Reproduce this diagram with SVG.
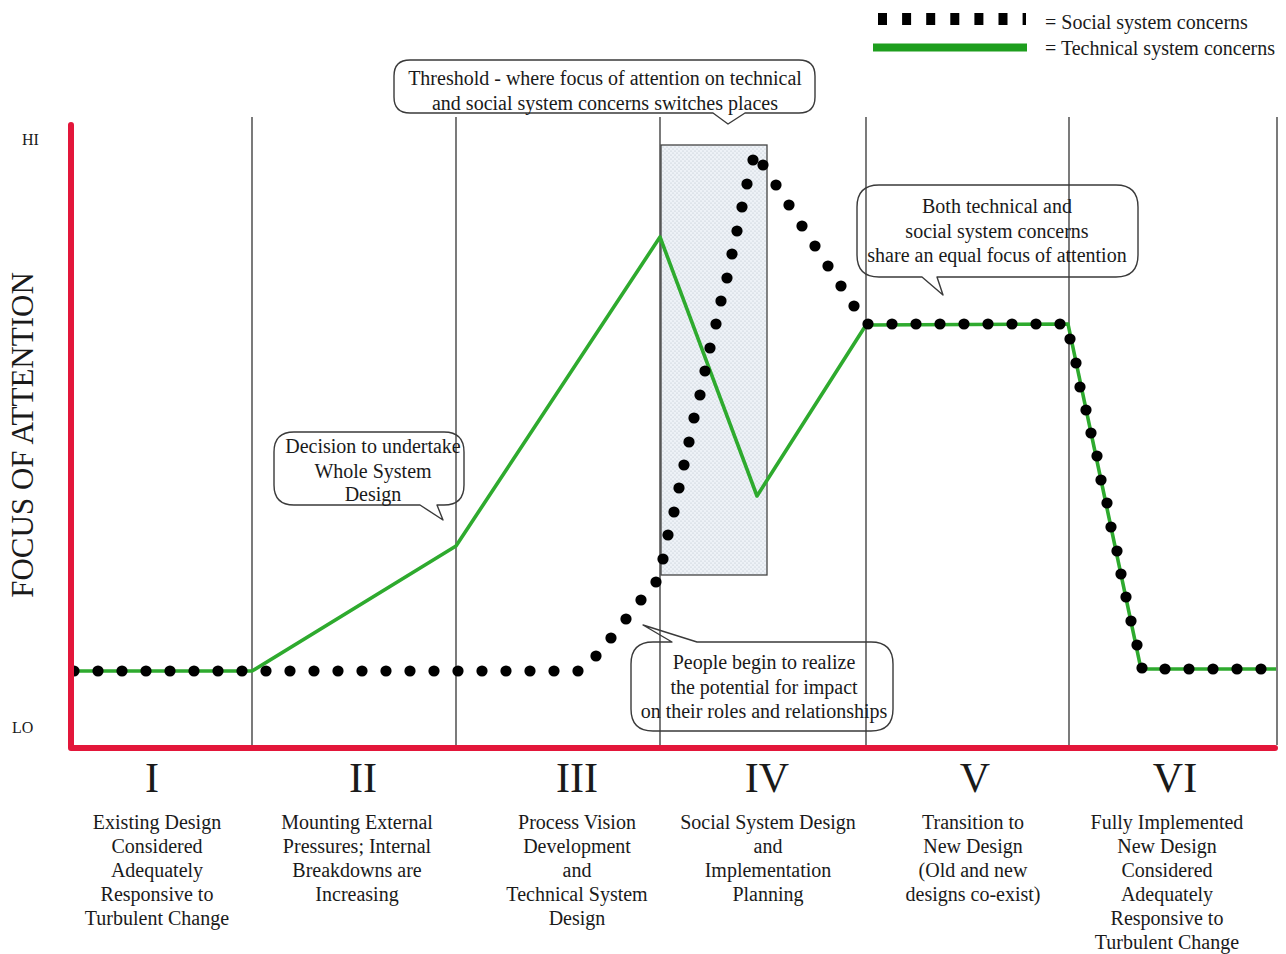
<svg xmlns="http://www.w3.org/2000/svg" width="1286" height="954" viewBox="0 0 1286 954">
<style>
.t{font-family:"Liberation Serif","Times New Roman",serif;fill:#1a1a1a}
.m{text-anchor:middle}
.s20{font-size:20px}
.call{fill:none;stroke:#3a3a3a;stroke-width:1.4;stroke-linejoin:round}
.vl{stroke:#222;stroke-width:1.2}
.dot{fill:#000}
.tech{fill:none;stroke:#2eaa2e;stroke-width:3.6;stroke-linejoin:round}
.axis{fill:none;stroke:#e3163a;stroke-width:6;stroke-linecap:round;stroke-linejoin:round}
.rom{font-size:42px}
</style>
<defs>
<pattern id="dots" width="4" height="4" patternUnits="userSpaceOnUse">
<rect width="4" height="4" fill="#eef2f7"/>
<circle cx="1" cy="1" r="0.5" fill="#a9b3bf"/>
<circle cx="3" cy="3" r="0.5" fill="#a9b3bf"/>
</pattern>
</defs>
<rect width="1286" height="954" fill="#fff"/>

<g id="legend">
<line x1="878" y1="19" x2="1026" y2="19" stroke="#000" stroke-width="12" stroke-dasharray="9 15.1"/>
<line x1="873" y1="47.5" x2="1027" y2="47.5" stroke="#1e9e1e" stroke-width="8"/>
<text class="t s20" x="1045" y="29">= Social system concerns</text>
<text class="t s20" x="1045" y="55">= Technical system concerns</text>
</g>

<g id="phase-dividers">
<line class="vl" x1="252" y1="117" x2="252" y2="745"/>
<line class="vl" x1="456" y1="117" x2="456" y2="745"/>
<line class="vl" x1="660" y1="117" x2="660" y2="745"/>
<line class="vl" x1="866" y1="117" x2="866" y2="745"/>
<line class="vl" x1="1069" y1="117" x2="1069" y2="745"/>
<line class="vl" x1="1277" y1="117" x2="1277" y2="745"/>
</g>

<g id="threshold-zone">
<rect x="661" y="145" width="106" height="430" fill="url(#dots)" stroke="#444" stroke-width="1.3"/>
</g>

<g id="connectors">
<polyline id="technical-line" class="tech" points="70,671 252,671 456,546 660,237 757,496 866,325 1068,324 1141,669 1276,669"/>
<g id="social-line" class="dot">
<circle cx="74" cy="671" r="5.6"/><circle cx="98" cy="671" r="5.6"/><circle cx="122" cy="671" r="5.6"/><circle cx="146" cy="671" r="5.6"/><circle cx="170" cy="671" r="5.6"/><circle cx="194" cy="671" r="5.6"/><circle cx="218" cy="671" r="5.6"/><circle cx="242" cy="671" r="5.6"/><circle cx="266" cy="671" r="5.6"/><circle cx="290" cy="671" r="5.6"/><circle cx="314" cy="671" r="5.6"/><circle cx="338" cy="671" r="5.6"/><circle cx="362" cy="671" r="5.6"/><circle cx="386" cy="671" r="5.6"/><circle cx="410" cy="671" r="5.6"/><circle cx="434" cy="671" r="5.6"/><circle cx="458" cy="671" r="5.6"/><circle cx="482" cy="671" r="5.6"/><circle cx="506" cy="671" r="5.6"/><circle cx="530" cy="671" r="5.6"/><circle cx="554" cy="671" r="5.6"/><circle cx="578" cy="671" r="5.6"/>
<circle cx="596" cy="656" r="5.6"/><circle cx="611" cy="638" r="5.6"/><circle cx="626" cy="619" r="5.6"/><circle cx="641" cy="600" r="5.6"/><circle cx="656" cy="582" r="5.6"/><circle cx="663" cy="559" r="5.6"/><circle cx="668" cy="535" r="5.6"/><circle cx="674" cy="512" r="5.6"/><circle cx="679" cy="488" r="5.6"/><circle cx="684" cy="465" r="5.6"/><circle cx="689" cy="442" r="5.6"/><circle cx="694" cy="418" r="5.6"/><circle cx="700" cy="395" r="5.6"/><circle cx="705" cy="371" r="5.6"/><circle cx="710" cy="348" r="5.6"/><circle cx="716" cy="324" r="5.6"/><circle cx="721" cy="301" r="5.6"/><circle cx="727" cy="278" r="5.6"/><circle cx="732" cy="254" r="5.6"/><circle cx="737" cy="231" r="5.6"/><circle cx="742" cy="207" r="5.6"/><circle cx="747" cy="184" r="5.6"/><circle cx="753" cy="160" r="5.6"/><circle cx="763" cy="165" r="5.6"/><circle cx="776" cy="185" r="5.6"/><circle cx="789" cy="205" r="5.6"/><circle cx="802" cy="226" r="5.6"/><circle cx="815" cy="246" r="5.6"/><circle cx="828" cy="266" r="5.6"/><circle cx="841" cy="286" r="5.6"/><circle cx="854" cy="306" r="5.6"/>
<circle cx="868" cy="324" r="5.6"/><circle cx="892" cy="324" r="5.6"/><circle cx="916" cy="324" r="5.6"/><circle cx="940" cy="324" r="5.6"/><circle cx="964" cy="324" r="5.6"/><circle cx="988" cy="324" r="5.6"/><circle cx="1012" cy="324" r="5.6"/><circle cx="1036" cy="324" r="5.6"/><circle cx="1060" cy="324" r="5.6"/>
<circle cx="1070" cy="339" r="5.6"/><circle cx="1076" cy="363" r="5.6"/><circle cx="1080" cy="387" r="5.6"/><circle cx="1086" cy="410" r="5.6"/><circle cx="1091" cy="433" r="5.6"/><circle cx="1097" cy="456" r="5.6"/><circle cx="1101" cy="480" r="5.6"/><circle cx="1107" cy="503" r="5.6"/><circle cx="1111" cy="527" r="5.6"/><circle cx="1117" cy="551" r="5.6"/><circle cx="1121" cy="574" r="5.6"/><circle cx="1126" cy="597" r="5.6"/><circle cx="1131" cy="621" r="5.6"/><circle cx="1137" cy="645" r="5.6"/><circle cx="1142" cy="668" r="5.6"/>
<circle cx="1165" cy="669" r="5.6"/><circle cx="1189" cy="669" r="5.6"/><circle cx="1213" cy="669" r="5.6"/><circle cx="1237" cy="669" r="5.6"/><circle cx="1261" cy="669" r="5.6"/>
</g>
</g>

<g id="axes">
<polyline class="axis" points="71,125 71,748 1275,748"/>
<text class="t" x="22" y="145" font-size="16">HI</text>
<text class="t" x="12" y="733" font-size="16">LO</text>
<text class="t m" transform="translate(33,435) rotate(-90)" font-size="31">FOCUS OF ATTENTION</text>
</g>

<g id="callout-threshold">
<path class="call" d="M410,60 H799 Q815,60 815,76 V97 Q815,113 799,113 H745 L728,124 L713,113 H410 Q394,113 394,97 V76 Q394,60 410,60 Z"/>
<text class="t m s20" x="605" y="85">Threshold - where focus of attention on technical</text>
<text class="t m s20" x="605" y="110">and social system concerns switches places</text>
</g>

<g id="callout-decision">
<path class="call" d="M294,432 H444 Q464,432 464,452 V485 Q464,505 444,505 H437 L443,520 L420,505 H294 Q274,505 274,485 V452 Q274,432 294,432 Z"/>
<text class="t m s20" x="373" y="453">Decision to undertake</text>
<text class="t m s20" x="373" y="478">Whole System</text>
<text class="t m s20" x="373" y="501">Design</text>
</g>

<g id="callout-people">
<path class="call" d="M653,642 H672 L643,625 L697,642 H871 Q893,642 893,664 V709 Q893,731 871,731 H653 Q631,731 631,709 V664 Q631,642 653,642 Z"/>
<text class="t m s20" x="764" y="669">People begin to realize</text>
<text class="t m s20" x="764" y="694">the potential for impact</text>
<text class="t m s20" x="764" y="718">on their roles and relationships</text>
</g>

<g id="callout-both">
<path class="call" d="M879,185 H1116 Q1138,185 1138,207 V255 Q1138,277 1116,277 H937 L943,295 L922,277 H879 Q857,277 857,255 V207 Q857,185 879,185 Z"/>
<text class="t m s20" x="997" y="213">Both technical and</text>
<text class="t m s20" x="997" y="238">social system concerns</text>
<text class="t m s20" x="997" y="262">share an equal focus of attention</text>
</g>

<g id="phase-I">
<text class="t m rom" x="152" y="792">I</text>
<text class="t m s20" x="157" y="829">Existing Design</text>
<text class="t m s20" x="157" y="853">Considered</text>
<text class="t m s20" x="157" y="877">Adequately</text>
<text class="t m s20" x="157" y="901">Responsive to</text>
<text class="t m s20" x="157" y="925">Turbulent Change</text>
</g>
<g id="phase-II">
<text class="t m rom" x="363" y="792">II</text>
<text class="t m s20" x="357" y="829">Mounting External</text>
<text class="t m s20" x="357" y="853">Pressures; Internal</text>
<text class="t m s20" x="357" y="877">Breakdowns are</text>
<text class="t m s20" x="357" y="901">Increasing</text>
</g>
<g id="phase-III">
<text class="t m rom" x="577" y="792">III</text>
<text class="t m s20" x="577" y="829">Process Vision</text>
<text class="t m s20" x="577" y="853">Development</text>
<text class="t m s20" x="577" y="877">and</text>
<text class="t m s20" x="577" y="901">Technical System</text>
<text class="t m s20" x="577" y="925">Design</text>
</g>
<g id="phase-IV">
<text class="t m rom" x="767" y="792">IV</text>
<text class="t m s20" x="768" y="829">Social System Design</text>
<text class="t m s20" x="768" y="853">and</text>
<text class="t m s20" x="768" y="877">Implementation</text>
<text class="t m s20" x="768" y="901">Planning</text>
</g>
<g id="phase-V">
<text class="t m rom" x="975" y="792">V</text>
<text class="t m s20" x="973" y="829">Transition to</text>
<text class="t m s20" x="973" y="853">New Design</text>
<text class="t m s20" x="973" y="877">(Old and new</text>
<text class="t m s20" x="973" y="901">designs co-exist)</text>
</g>
<g id="phase-VI">
<text class="t m rom" x="1175" y="792">VI</text>
<text class="t m s20" x="1167" y="829">Fully Implemented</text>
<text class="t m s20" x="1167" y="853">New Design</text>
<text class="t m s20" x="1167" y="877">Considered</text>
<text class="t m s20" x="1167" y="901">Adequately</text>
<text class="t m s20" x="1167" y="925">Responsive to</text>
<text class="t m s20" x="1167" y="949">Turbulent Change</text>
</g>
</svg>
